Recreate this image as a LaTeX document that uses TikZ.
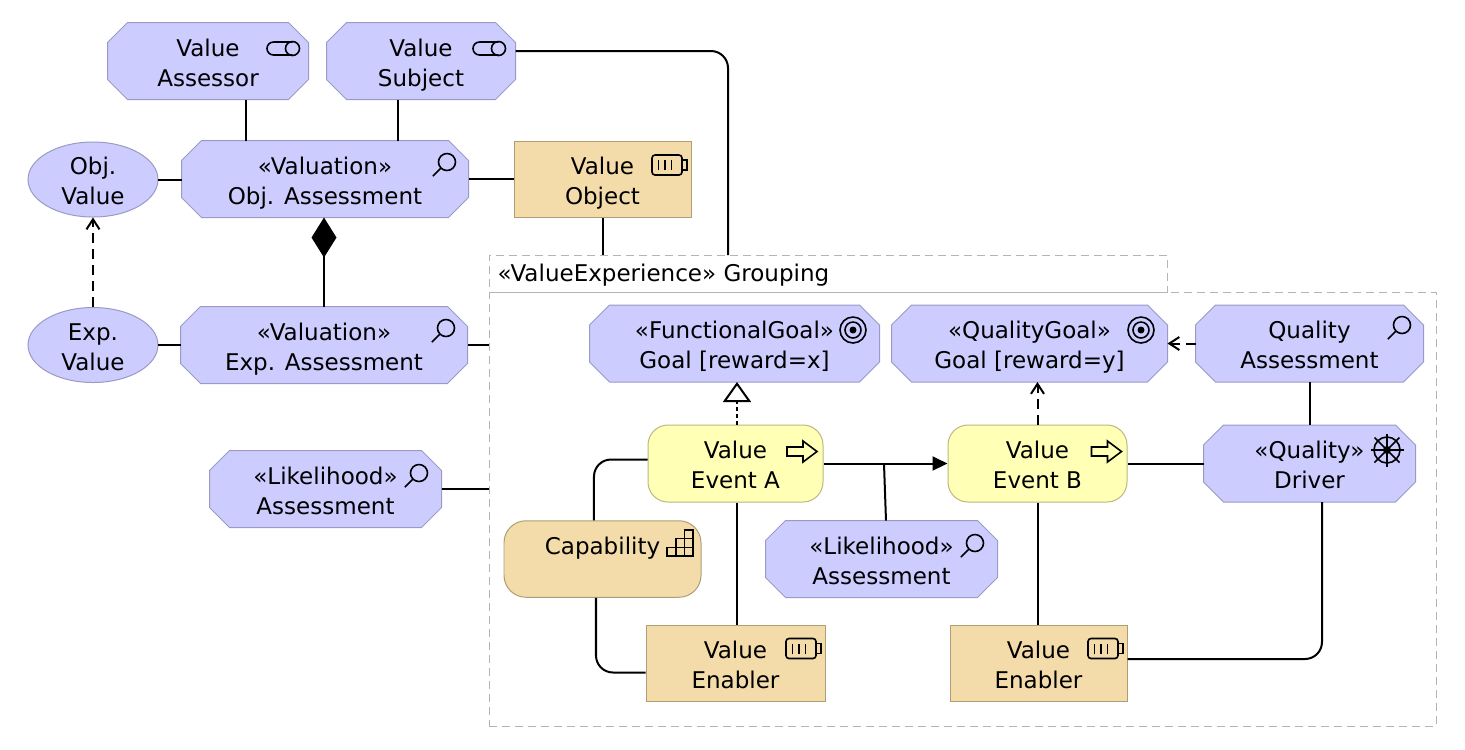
\documentclass[tikz,border=0pt]{standalone}
\usepackage{fontspec}
\setmainfont{DejaVu Sans}
\usetikzlibrary{arrows.meta,shapes.geometric}

\definecolor{motivfill}{HTML}{CCCCFF}
\definecolor{motivline}{HTML}{9A9AC4}
\definecolor{stratfill}{HTML}{F3DCAA}
\definecolor{stratline}{HTML}{AE9E76}
\definecolor{eventfill}{HTML}{FFFFB5}
\definecolor{eventline}{HTML}{B9B97F}
\definecolor{groupline}{HTML}{B4B4B4}

%Octagon shape with 2mm corners
\makeatletter
\pgfdeclareshape{octagonbox}{
	\inheritsavedanchors[from=rectangle]
	\inheritanchorborder[from=rectangle]
	\inheritanchor[from=rectangle]{center}
	\inheritanchor[from=rectangle]{north}
	\inheritanchor[from=rectangle]{south}
	\inheritanchor[from=rectangle]{east}
	\inheritanchor[from=rectangle]{west}
	\backgroundpath{
		\southwest \edef\octl{\the\pgf@x}\edef\octb{\the\pgf@y}
		\northeast \edef\octr{\the\pgf@x}\edef\octt{\the\pgf@y}
		\pgfpathmoveto{\pgfpoint{\octl}{\octb+2mm}}
		\pgfpathlineto{\pgfpoint{\octl}{\octt-2mm}}
		\pgfpathlineto{\pgfpoint{\octl+2mm}{\octt}}
		\pgfpathlineto{\pgfpoint{\octr-2mm}{\octt}}
		\pgfpathlineto{\pgfpoint{\octr}{\octt-2mm}}
		\pgfpathlineto{\pgfpoint{\octr}{\octb+2mm}}
		\pgfpathlineto{\pgfpoint{\octr-2mm}{\octb}}
		\pgfpathlineto{\pgfpoint{\octl+2mm}{\octb}}
		\pgfpathclose
	}
}
\makeatother

\tikzset{
	labeltext/.style={align=center,inner sep=0pt,text height=0.5cm,text depth=0pt,font=\fontsize{6.55}{8.54}\selectfont},
	octbox/.style={labeltext,draw=motivline,fill=motivfill,line width=0.01cm,
		octagonbox,minimum height=0.76cm},
	valuebox/.style={labeltext,draw=motivline,fill=motivfill,line width=0.01cm,
		ellipse,minimum width=1.30cm,minimum height=0.75cm},
	resbox/.style={labeltext,draw=stratline,fill=stratfill,line width=0.01cm,
		minimum height=0.765cm},
	capbox/.style={resbox,rounded corners=0.22cm},
	evbox/.style={labeltext,draw=eventline,fill=eventfill,line width=0.01cm,
		rounded corners=0.2cm,minimum height=0.77cm},
	groupbox/.style={draw=groupline,line width=0.01cm,dash pattern=on 0.08cm off 0.05cm,inner sep=0pt},
	link/.style={line width=0.02cm},
	roundlink/.style={link,rounded corners=0.17cm},
	realize/.style={link,dash pattern=on 0.1cm off 0.06cm,-{Straight Barb[length=0.1cm,width=0.13cm]}},
	iconline/.style={line width=0.016cm},
}

%Icons
\newcommand{\roleicon}[1]{\begin{scope}[shift={(#1)}]
	\draw[iconline] (0,0) circle (0.07);
	\draw[iconline] (0,0.065) -- (-0.19,0.065) arc (90:270:0.065) -- (0,-0.065);
\end{scope}}
\newcommand{\lensicon}[1]{\begin{scope}[shift={(#1)}]
	\draw[iconline] (0,0) circle (0.085);
	\draw[iconline] (225:0.085) -- (225:0.2);
\end{scope}}
\newcommand{\battericon}[1]{\begin{scope}[shift={(#1)}]
	\draw[iconline,rounded corners=0.03cm] (-0.15,-0.1) rectangle (0.15,0.1);
	\draw[iconline] (0.15,0.05) -- (0.2,0.05) -- (0.2,-0.05) -- (0.15,-0.05);
	\draw[line width=0.015cm] (-0.087,-0.05) -- (-0.087,0.05);
	\draw[line width=0.015cm] (-0.02,-0.05) -- (-0.02,0.05);
	\draw[line width=0.015cm] (0.047,-0.05) -- (0.047,0.05);
\end{scope}}
\newcommand{\targeticon}[1]{\begin{scope}[shift={(#1)}]
	\draw[iconline] (0,0) circle (0.13);
	\draw[iconline] (0,0) circle (0.08);
	\fill (0,0) circle (0.035);
\end{scope}}
\newcommand{\eventicon}[1]{\begin{scope}[shift={(#1)}]
	\draw[iconline] (-0.15,0.045) -- (0.01,0.045) -- (0.01,0.105) -- (0.15,0) -- (0.01,-0.105) -- (0.01,-0.045) -- (-0.15,-0.045) -- cycle;
\end{scope}}
\newcommand{\stairicon}[1]{\begin{scope}[shift={(#1)}]
	\draw[iconline] (0,0) rectangle (0.26,0.087);
	\draw[iconline] (0.087,0) rectangle (0.26,0.174);
	\draw[iconline] (0.174,0) rectangle (0.26,0.26);
\end{scope}}
\newcommand{\wheelicon}[1]{\begin{scope}[shift={(#1)}]
	\draw[iconline] (0,0) circle (0.13);
	\draw[iconline] (-0.165,0) -- (0.165,0);
	\draw[iconline] (0,-0.165) -- (0,0.165);
	\draw[iconline] (-0.125,-0.125) -- (0.125,0.125);
	\draw[iconline] (-0.125,0.125) -- (0.125,-0.125);
	\fill (0,0) circle (0.04);
\end{scope}}

\begin{document}
\begin{tikzpicture}
\useasboundingbox (0,0) rectangle (14.65,-7.49);

%Grouping
\node [groupbox,minimum width=6.78cm,minimum height=0.37cm] (grptab) at (8.28,-2.735) {};
\node [groupbox,minimum width=9.47cm,minimum height=4.34cm] (grpbox) at (9.625,-5.09) {};
\node [labeltext,anchor=base west] (grptext) at (4.97,-2.81) {«ValueExperience» Grouping};
\coordinate (grpin) at (7.28,-2.55);

%Assessors and Object
\node [octbox,minimum width=2.00cm] (asrbox) at (2.08,-0.61) {Value\\Assessor};
\node [octbox,minimum width=1.88cm] (subbox) at (4.21,-0.61) {Value\\Subject};
\node [octbox,minimum width=2.86cm] (obabox) at (3.25,-1.79) {«Valuation»\\Obj. Assessment};
\node [resbox,minimum width=1.77cm] (objbox) at (6.025,-1.795) {Value\\Object};
\node [valuebox] (ovalbox) at (0.93,-1.795) {Obj.\\Value};

%Experience row
\node [valuebox] (evalbox) at (0.93,-3.45) {Exp.\\Value};
\node [octbox,minimum width=2.86cm] (expbox) at (3.24,-3.45) {«Valuation»\\Exp. Assessment};
\node [octbox,minimum width=2.31cm] (lkobox) at (3.255,-4.89) {«Likelihood»\\Assessment};

%Goals
\node [octbox,minimum width=2.89cm] (fgoalbox) at (7.345,-3.435) {«FunctionalGoal»\\Goal [reward=x]};
\node [octbox,minimum width=2.75cm] (qgoalbox) at (10.295,-3.435) {«QualityGoal»\\Goal [reward=y]};
\node [octbox,minimum width=2.27cm] (qasbox) at (13.095,-3.435) {Quality\\Assessment};

%Events and Driver
\node [evbox,minimum width=1.75cm] (evabox) at (7.355,-4.635) {Value\\Event A};
\node [evbox,minimum width=1.79cm] (evbbox) at (10.375,-4.635) {Value\\Event B};
\node [octbox,minimum width=2.11cm] (drvbox) at (13.095,-4.635) {«Quality»\\Driver};

%Capability and Enablers
\node [capbox,minimum width=1.97cm] (capnode) at (6.025,-5.59) {Capability\\~};
\node [octbox,minimum width=2.31cm] (lkibox) at (8.815,-5.59) {«Likelihood»\\Assessment};
\node [resbox,minimum width=1.79cm] (enabox) at (7.355,-6.635) {Value\\Enabler};
\node [resbox,minimum width=1.77cm] (enbbox) at (10.385,-6.635) {Value\\Enabler};
\coordinate (lkjoin) at (8.84,-4.635);

%Icons
\roleicon{2.925,-0.485}
\roleicon{4.985,-0.485}
\lensicon{4.47,-1.62}
\lensicon{4.46,-3.28}
\lensicon{4.19,-4.73}
\lensicon{9.75,-5.43}
\lensicon{14.02,-3.25}
\battericon{6.67,-1.65}
\battericon{8.01,-6.485}
\battericon{11.03,-6.485}
\targeticon{8.53,-3.30}
\targeticon{11.41,-3.30}
\eventicon{8.02,-4.515}
\eventicon{11.065,-4.515}
\stairicon{6.67,-5.56}
\wheelicon{13.87,-4.50}

%Upper connectors
\draw[link] ([xshift=0.38cm]asrbox.south) -- ([xshift=0.38cm]asrbox.south |- obabox.north);
\draw[link] ([xshift=-0.23cm]subbox.south) -- ([xshift=-0.23cm]subbox.south |- obabox.north);
\draw[link] (ovalbox.east) -- (ovalbox.east -| obabox.west);
\draw[link] (obabox.east) -- (obabox.east -| objbox.west);
\draw[link] (objbox.south) -- (objbox.south |- grptab.north);
\draw[roundlink] ([yshift=0.1cm]subbox.east) -| (grpin);
\draw[realize] (evalbox.north) -- (ovalbox.south);
\draw[link,-{Diamond[length=0.4cm,width=0.25cm]}] (expbox.north) -- (expbox.north |- obabox.south);
\draw[link] (evalbox.east) -- (expbox.west);
\draw[link] (expbox.east) -- (expbox.east -| grpbox.west);
\draw[link] (lkobox.east) -- (lkobox.east -| grpbox.west);

%Inner connectors
\draw[link,dash pattern=on 0.035cm off 0.035cm,-{Triangle[open,length=0.2cm,width=0.28cm,fill=white]}] ([xshift=0.015cm]evabox.north) -- ([xshift=0.015cm]evabox.north |- fgoalbox.south);
\draw[realize] (evbbox.north) -- (evbbox.north |- qgoalbox.south);
\draw[realize] (qasbox.west) -- (qgoalbox.east);
\draw[link] (qasbox.south) -- (drvbox.north);
\draw[link,-{Triangle[length=0.15cm,width=0.14cm]}] (evabox.east) -- (evbbox.west);
\draw[link] (lkjoin) -- ([xshift=0.045cm]lkibox.north);
\draw[link] (evbbox.east) -- (drvbox.west);
\draw[link] ([xshift=0.015cm]evabox.south) -- ([xshift=0.015cm]evabox.south |- enabox.north);
\draw[link] (evbbox.south) -- (evbbox.south |- enbbox.north);
\draw[roundlink] ([yshift=0.04cm]evabox.west) -| ([xshift=-0.085cm]capnode.north);
\draw[roundlink] ([xshift=-0.065cm]capnode.south) |- ([yshift=-0.09cm]enabox.west);
\draw[roundlink] ([yshift=0.045cm]enbbox.east) -| ([xshift=0.125cm]drvbox.south);

\end{tikzpicture}
\end{document}
